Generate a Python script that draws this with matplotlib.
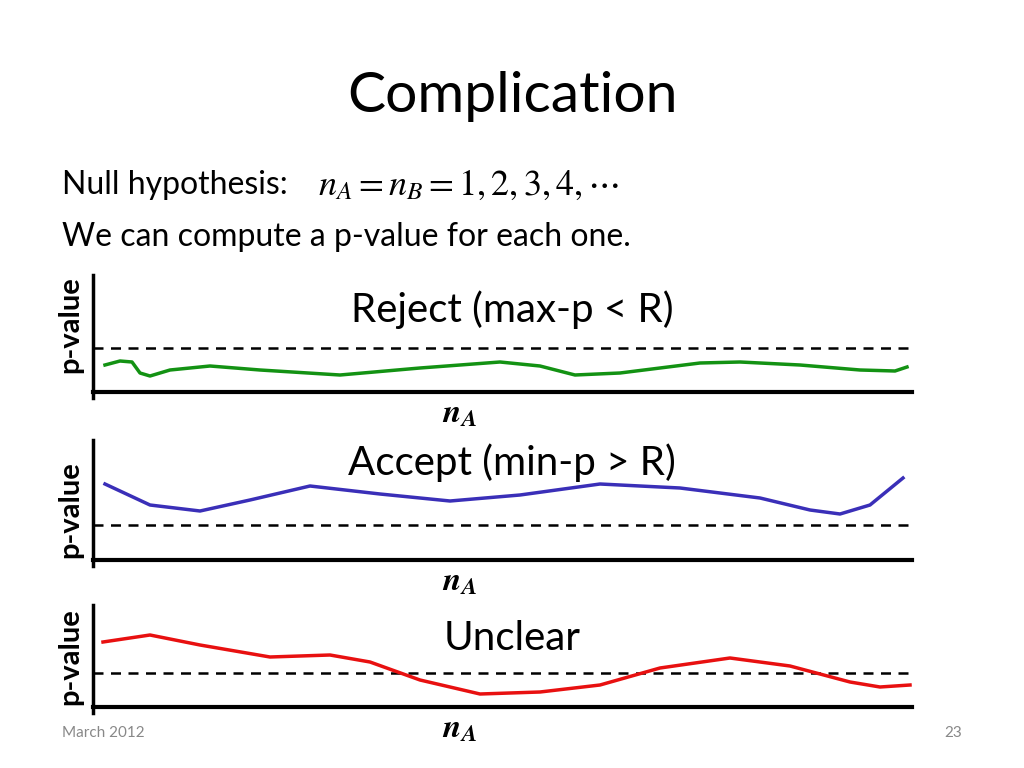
import matplotlib
matplotlib.use("Agg")
import matplotlib.pyplot as plt

plt.rcParams["font.family"] = "Lato"
plt.rcParams["mathtext.fontset"] = "stix"

green_x = [105,120,132,140,150,170,210,260,340,420,500,540,575,620,700,740,800,860,895,907]
green_y = [365,361,362,373,376,370,366,370,375,368,362,366,375,373,363,362,365,370,371,367]
blue_x = [105,150,200,250,310,380,450,520,600,680,760,810,840,870,903]
blue_y = [484,505,511,500,486,494,501,495,484,488,498,510,514,505,478]
red_x = [103,150,200,270,330,370,420,480,540,600,660,730,790,850,880,910]
red_y = [642,635,645,657,655,662,680,694,692,685,668,658,666,682,687,685]

panels = [
    (275, 392, 348, "Reject (max-p < R)", 310, green_x, green_y, "#139213", 325),
    (440, 560, 525, "Accept (min-p > R)", 463, blue_x, blue_y, "#3a2fb8", 510),
    (605, 707, 673, "Unclear", 638, red_x, red_y, "#e81010", 657),
]

fig = plt.figure(figsize=(10.24, 7.68), dpi=100)
ax = fig.add_axes([0, 0, 1, 1])
ax.set_xlim(0, 1024); ax.set_ylim(768, 0); ax.axis("off")

ax.text(512, 97, "Complication", ha="center", va="center", fontsize=41)
ax.text(62, 185, "Null hypothesis:", ha="left", va="center", fontsize=23)
ax.text(318, 185, r"$n_A = n_B = 1, 2, 3, 4, \cdots$", ha="left", va="center", fontsize=26)
ax.text(62, 237, "We can compute a p-value for each one.", ha="left", va="center", fontsize=23)

for top, bot, dash, lab, ly, xs, ys, c, py in panels:
    ax.plot([93, 93], [top, bot + 6], color="black", lw=2.5)
    ax.plot([93, 912], [bot, bot], color="black", lw=3)
    ax.plot([93, 912], [dash, dash], color="black", lw=1.8, ls=(0, (4, 3)))
    ax.plot(xs, ys, color=c, lw=2.5, solid_joinstyle="round")
    ax.text(512, ly, lab, ha="center", va="center", fontsize=29)
    ax.text(70, py, "p-value", ha="center", va="center", fontsize=21, fontweight="bold", rotation=90)
    ax.text(460, bot + 22, r"$\mathbfit{n_A}$", ha="center", va="center", fontsize=24)

ax.text(62, 733, "March 2012", ha="left", va="center", fontsize=11, color="#888888")
ax.text(962, 733, "23", ha="right", va="center", fontsize=11, color="#888888")

fig.savefig("out.png", dpi=100)
